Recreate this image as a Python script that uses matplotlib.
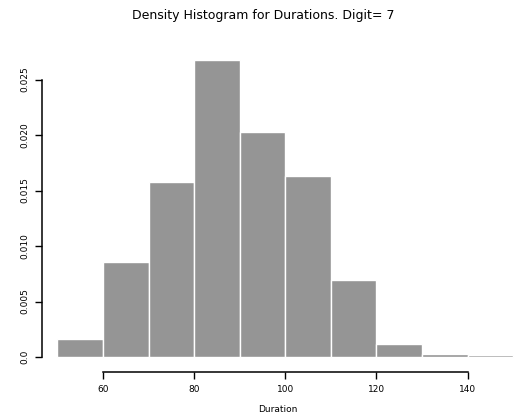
import matplotlib
matplotlib.use("Agg")
import matplotlib.pyplot as plt

# histogram bins (Duration) and density heights
bin_edges = [50, 60, 70, 80, 90, 100, 110, 120, 130, 140, 150]
densities = [0.0016, 0.0086, 0.0158, 0.0268, 0.0203, 0.0163, 0.0069, 0.0012, 0.00027, 0.00015]
x_ticks = [60, 80, 100, 120, 140]
y_ticks = [0.0, 0.005, 0.010, 0.015, 0.020, 0.025]
y_labels = ["0.0", "0.005", "0.010", "0.015", "0.020", "0.025"]

W, H = 514, 420
fig = plt.figure(figsize=(W / 100, H / 100), dpi=100)
# axes box in pixels: left 42, right 514, top 47, bottom 372
ax = fig.add_axes([42 / W, 1 - 372 / H, (514 - 42) / W, (372 - 47) / H])

widths = [b - a for a, b in zip(bin_edges[:-1], bin_edges[1:])]
ax.bar(bin_edges[:-1], densities, width=widths, align="edge",
       color="#959595", edgecolor="white", linewidth=1.0)

ax.set_xlim(46.6, 150.2)
ax.set_ylim(-0.00135, 0.02793)

for s in ["top", "right"]:
    ax.spines[s].set_visible(False)
ax.spines["bottom"].set_bounds(60, 140)
ax.spines["left"].set_bounds(0, 0.025)
ax.spines["bottom"].set_linewidth(1.1)
ax.spines["left"].set_linewidth(1.1)

ax.set_xticks(x_ticks)
ax.set_xticklabels([str(t) for t in x_ticks], fontsize=6.5)
ax.set_yticks(y_ticks)
ax.set_yticklabels(y_labels, fontsize=6.5, rotation=90, va="center")
ax.tick_params(length=5, width=1.0, pad=4)

ax.set_xlabel("Duration", fontsize=6.5, labelpad=8)
fig.text(263 / W, 1 - 16 / H, "Density Histogram for Durations. Digit= 7",
         ha="center", va="center", fontsize=9)

fig.savefig("out.png", dpi=100)
